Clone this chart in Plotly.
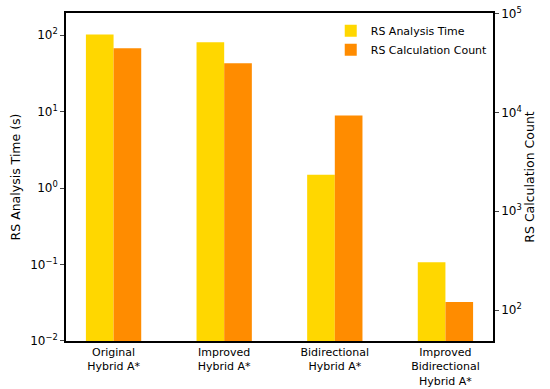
import plotly.graph_objects as go

categories = ["Original<br>Hybrid A*", "Improved<br>Hybrid A*",
              "Bidirectional<br>Hybrid A*", "Improved<br>Bidirectional<br>Hybrid A*"]
analysis_time = [102, 81, 1.49, 0.107]
calc_count = [44600, 31500, 9300, 121]
left_ticks = [0.01, 0.1, 1, 10, 100]
left_ticktext = ["10<sup>−2</sup>", "10<sup>−1</sup>", "10<sup>0</sup>", "10<sup>1</sup>", "10<sup>2</sup>"]
right_ticks = [100, 1000, 10000, 100000]
right_ticktext = ["10<sup>2</sup>", "10<sup>3</sup>", "10<sup>4</sup>", "10<sup>5</sup>"]

font = "DejaVu Sans"
fig = go.Figure()
fig.add_trace(go.Bar(x=categories, y=analysis_time, name="RS Analysis Time",
                     marker=dict(color="#FFD700", line=dict(width=0)),
                     offset=-0.25, width=0.25, yaxis="y"))
fig.add_trace(go.Bar(x=categories, y=calc_count, name="RS Calculation Count",
                     marker=dict(color="#FF8C00", line=dict(width=0)),
                     offset=0.0, width=0.25, yaxis="y2"))

fig.update_layout(
    width=550, height=389,
    margin=dict(l=66, r=57, t=13, b=48, autoexpand=False),
    plot_bgcolor="white", paper_bgcolor="white",
    font=dict(family=font, color="black", size=11),
    showlegend=True,
    legend=dict(x=0.62, y=0.99, xanchor="left", yanchor="top",
                bgcolor="rgba(255,255,255,0)", font=dict(size=11, family=font),
                itemwidth=30, tracegroupgap=0),
    xaxis=dict(range=[-0.43, 3.43], showline=True, linecolor="black", linewidth=1.5,
               mirror=True, ticks="", showgrid=False, tickfont=dict(size=11),
               tickangle=0, automargin=False),
    yaxis=dict(type="log", range=[-2.001, 2.29], tickvals=left_ticks, ticktext=left_ticktext,
               showline=True, linecolor="black", linewidth=1.5, ticks="outside",
               ticklen=4, tickwidth=1.2, showgrid=False, tickfont=dict(size=12),
               title=dict(text="RS Analysis Time (s)", font=dict(size=12.5), standoff=7),
               zeroline=False, automargin=False, ticklabeloverflow="allow"),
    yaxis2=dict(type="log", range=[1.687, 5.006], tickvals=right_ticks, ticktext=right_ticktext,
                overlaying="y", side="right",
                showline=True, linecolor="black", linewidth=1.5, ticks="outside",
                ticklen=4, tickwidth=1.2, showgrid=False, tickfont=dict(size=12),
                title=dict(text="RS Calculation Count", font=dict(size=12.5), standoff=4),
                zeroline=False, automargin=False, ticklabeloverflow="allow"),
)
# remove the browser's default 8px body margin so the figure fills the window exactly
fig.write_html("out.html", config={"displayModeBar": False},
               post_script="document.body.style.margin='0';")
